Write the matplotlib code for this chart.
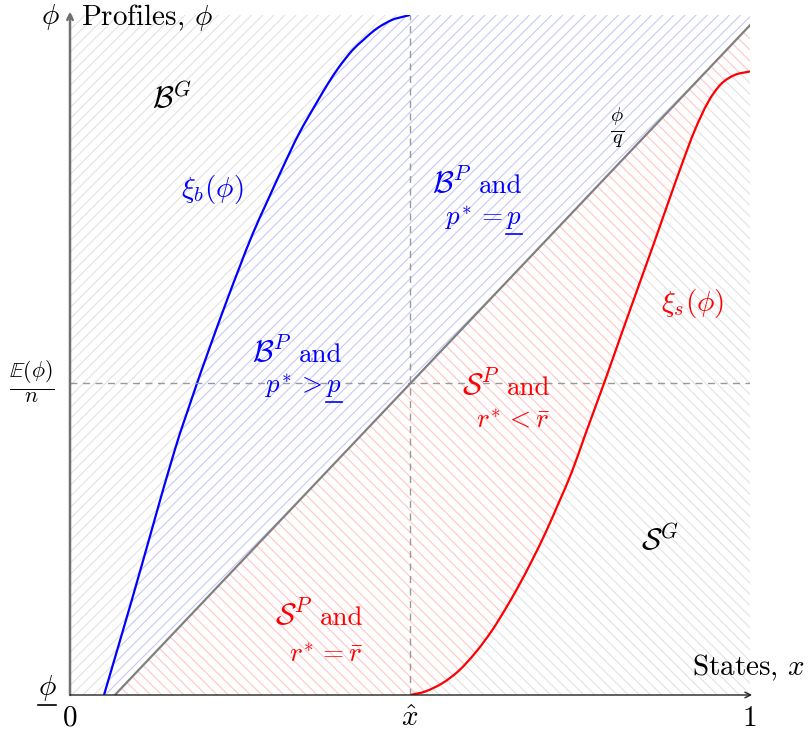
import numpy as np
import matplotlib
matplotlib.use("Agg")
import matplotlib.pyplot as plt
from matplotlib.lines import Line2D
from matplotlib.path import Path
from matplotlib.patches import PathPatch

plt.rcParams['mathtext.fontset'] = 'cm'
plt.rcParams['font.family'] = 'serif'
plt.rcParams['font.serif'] = ['cmr10', 'DejaVu Serif']
plt.rcParams['axes.formatter.use_mathtext'] = True
plt.rcParams['hatch.linewidth'] = 0.8

# key levels (x in states, y in profiles, both scaled to [0, 1])
x_hat = 0.5
mean_level = 0.459          # E(phi)/n

# phi/q line
diag_x = np.array([0.066, 1.0])
diag_y = np.array([0.0, 0.985])

# buyer threshold xi_b(phi)
xi_b_x = np.array([0.050, 0.091, 0.154, 0.187, 0.199, 0.213, 0.231, 0.250,
                   0.269, 0.291, 0.313, 0.337, 0.365, 0.380, 0.396, 0.416,
                   0.431, 0.441, 0.454, 0.474, 0.488, 0.500])
xi_b_y = np.array([0.000, 0.140, 0.360, 0.459, 0.493, 0.532, 0.581, 0.631,
                   0.679, 0.728, 0.776, 0.826, 0.875, 0.900, 0.924, 0.949,
                   0.963, 0.972, 0.982, 0.993, 0.997, 1.000])

# seller threshold xi_s(phi)
xi_s_x = np.array([0.500, 0.522, 0.547, 0.571, 0.596, 0.620, 0.640, 0.659,
                   0.679, 0.699, 0.718, 0.738, 0.757, 0.787, 0.811, 0.836,
                   0.860, 0.880, 0.900, 0.919, 0.939, 0.958, 0.978, 1.000])
xi_s_y = np.array([0.000, 0.005, 0.017, 0.035, 0.062, 0.094, 0.126, 0.159,
                   0.197, 0.238, 0.281, 0.328, 0.381, 0.463, 0.531, 0.601,
                   0.668, 0.725, 0.781, 0.831, 0.873, 0.899, 0.912, 0.917])


def smooth_segments(xs, ys):
    """Bezier (CURVE4) pieces through the read points, without the first vertex."""
    p = np.column_stack([xs, ys])
    n = len(p)
    tang = np.zeros_like(p)
    tang[0] = p[1] - p[0]
    tang[-1] = p[-1] - p[-2]
    tang[1:-1] = p[2:] - p[:-2]
    tang /= np.linalg.norm(tang, axis=1)[:, None]
    verts, codes = [], []
    for i in range(n - 1):
        d = np.linalg.norm(p[i + 1] - p[i]) / 3
        verts += [p[i] + tang[i] * d, p[i + 1] - tang[i + 1] * d, p[i + 1]]
        codes += [Path.CURVE4] * 3
    return verts, codes


def build_path(pieces):
    """pieces: list of ('line', (x, y)) or ('curve', xs, ys); first item starts the path."""
    verts, codes = [], []
    for item in pieces:
        if item[0] == 'line':
            verts.append(item[1])
            codes.append(Path.MOVETO if not codes else Path.LINETO)
        else:
            xs, ys = item[1], item[2]
            verts.append((xs[0], ys[0]))
            codes.append(Path.MOVETO if not codes else Path.LINETO)
            v, c = smooth_segments(xs, ys)
            verts += v
            codes += c
    return Path(verts, codes)


fig = plt.figure(figsize=(8.09, 7.37), dpi=100)
ax = fig.add_axes([70 / 809, 42 / 737, 680 / 809, 680 / 737])
ax.set_xlim(0, 1)
ax.set_ylim(0, 1)
ax.axis('off')

gray_h = '#e2e2e2'
blue_h = '#c8c8f6'
red_h = '#ffc6c6'

# B^G region: left of xi_b
bg = build_path([('line', (0.0, 0.0)), ('curve', xi_b_x, xi_b_y), ('line', (0.0, 1.0))])
# B^P region: right of xi_b, above phi/q
bp = build_path([('line', (diag_x[0], diag_y[0])), ('line', (diag_x[1], diag_y[1])),
                 ('line', (1.0, 1.0)), ('curve', xi_b_x[::-1], xi_b_y[::-1])])
# S^P region: below phi/q, above xi_s
sp = build_path([('line', (diag_x[0], diag_y[0])), ('curve', xi_s_x, xi_s_y),
                 ('line', (diag_x[1], diag_y[1]))])
# S^G region: right of xi_s
sg = build_path([('curve', xi_s_x, xi_s_y), ('line', (1.0, 0.0))])

for path, col, hatch in [(bg, gray_h, '///'), (bp, blue_h, '///'),
                         (sp, red_h, '\\\\\\'), (sg, gray_h, '\\\\\\')]:
    ax.add_patch(PathPatch(path, facecolor='none', edgecolor=col, hatch=hatch, lw=0))

# guide lines
ax.plot([0, 1], [mean_level, mean_level], color='#999999', lw=1, ls=(0, (5, 4)))
ax.plot([x_hat, x_hat], [0, 1], color='#999999', lw=1, ls=(0, (5, 4)))

# curves
ax.plot(diag_x, diag_y, color='#808080', lw=1.6)
ax.add_patch(PathPatch(build_path([('curve', xi_b_x, xi_b_y)]), facecolor='none',
                       edgecolor='blue', lw=1.6))
ax.add_patch(PathPatch(build_path([('curve', xi_s_x, xi_s_y)]), facecolor='none',
                       edgecolor='red', lw=1.6))

# axes with arrows
ax.annotate('', xy=(0, 1.005), xytext=(0, 0), annotation_clip=False,
            arrowprops=dict(arrowstyle='->', color='#707070', lw=1.8, shrinkA=0, shrinkB=0))
ax.annotate('', xy=(1.003, 0), xytext=(0, 0), annotation_clip=False,
            arrowprops=dict(arrowstyle='->', color='#222222', lw=1.0, shrinkA=0, shrinkB=0))

fs = 21
fl = 19.5
fm = 22
kw = dict(clip_on=False, fontsize=fs)
ax.text(-0.029, 0.997, r'$\phi$', ha='center', va='center', **kw)
ax.text(0.016, 0.997, r'Profiles, $\phi$', ha='left', va='center', **kw)
ax.text(1.081, 0.040, r'States, $x$', ha='right', va='center', **kw)
ax.text(-0.056, mean_level, r'$\frac{\mathbb{E}(\phi)}{n}$', ha='center', va='center',
        clip_on=False, fontsize=22.5)
phi_low = ax.text(-0.034, 0.010, r'$\phi$', ha='center', va='center', **kw)
ax.text(0.0, -0.035, '0', ha='center', va='center', **kw)
ax.text(x_hat, -0.035, r'$\hat{x}$', ha='center', va='center', **kw)
ax.text(1.0, -0.035, '1', ha='center', va='center', **kw)

ax.text(0.15, 0.879, r'$\mathcal{B}^G$', ha='center', va='center', fontsize=fm)
ax.text(0.868, 0.228, r'$\mathcal{S}^G$', ha='center', va='center', fontsize=fm)
ax.text(0.209, 0.743, r'$\xi_b(\phi)$', color='blue', ha='center', va='center', fontsize=21)
ax.text(0.916, 0.576, r'$\xi_s(\phi)$', color='red', ha='center', va='center', fontsize=21)
ax.text(0.804, 0.834, r'$\frac{\phi}{q}$', ha='center', va='center', fontsize=21)

# two-line region labels, right aligned: (right x, baseline 1, baseline 2, symbol, line 2, colour)
region_labels = [
    (0.665, 0.738, 0.691, r'$\mathcal{B}^P$', r'$p^{\!*} = p$', 'blue'),
    (0.400, 0.490, 0.444, r'$\mathcal{B}^P$', r'$p^{\!*} > p$', 'blue'),
    (0.707, 0.441, 0.394, r'$\mathcal{S}^P$', r'$r^{\!*} < \bar{r}$', 'red'),
    (0.431, 0.103, 0.049, r'$\mathcal{S}^P$', r'$r^{\!*} = \bar{r}$', 'red'),
]
and_texts = []
second_lines = []
for xr, y1, y2, sym, line2, col in region_labels:
    and_texts.append(ax.text(xr, y1, 'and', ha='right', va='baseline', fontsize=fl, color=col))
    second_lines.append(ax.text(xr, y2, line2, ha='right', va='baseline', fontsize=fl, color=col))

fig.canvas.draw()
renderer = fig.canvas.get_renderer()
inv = ax.transData.inverted()

# put the calligraphic symbol left of "and"
for (xr, y1, y2, sym, line2, col), t_and in zip(region_labels, and_texts):
    bb = t_and.get_window_extent(renderer)
    xs = inv.transform((bb.x0 - 7, 0))[0]
    ax.text(xs, y1, sym, ha='right', va='baseline', fontsize=fm, color=col)


# mathtext has no \underline: draw the bars under the last glyph by hand
def underline_last(txt, glyph, color, gap=2.0, lw=1.2):
    bb = txt.get_window_extent(renderer)
    probe = ax.text(0, 0, glyph, fontsize=txt.get_fontsize())
    w = probe.get_window_extent(renderer).width
    probe.remove()
    y = bb.y0 - gap
    fig.add_artist(Line2D([(bb.x1 - w) / fig.bbox.width, bb.x1 / fig.bbox.width],
                          [y / fig.bbox.height, y / fig.bbox.height],
                          color=color, lw=lw))


underline_last(second_lines[0], r'$p$', 'blue')
underline_last(second_lines[1], r'$p$', 'blue')
underline_last(phi_low, r'$\phi$', 'black')

fig.savefig('out.png', dpi=100)
